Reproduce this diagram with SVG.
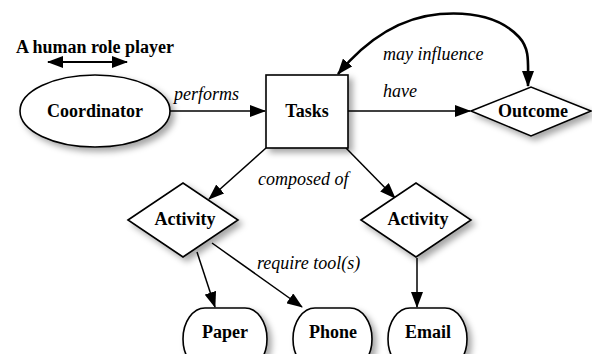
<svg xmlns="http://www.w3.org/2000/svg" width="592" height="354" viewBox="0 0 592 354">
  <style>
    .shape { fill: #fff; stroke: #000; stroke-width: 1.6; filter: url(#shadow); }
    .lbl { font-family: 'Liberation Serif', 'DejaVu Serif', 'Times New Roman', serif; font-weight: bold; font-size: 18px; text-anchor: middle; fill: #000; }
    .edge { fill: none; stroke: #000; stroke-width: 1.5; }
    .thick { stroke-width: 2.6; }
    .elbl { font-family: 'Liberation Serif', 'DejaVu Serif', 'Times New Roman', serif; font-style: italic; font-size: 18px; fill: #000; }
  </style>
  <defs>
    <filter id="shadow" x="-20%" y="-20%" width="150%" height="160%">
      <feDropShadow dx="4" dy="4" stdDeviation="3" flood-color="#000" flood-opacity="0.35"/>
    </filter>
    <marker id="arrow" markerUnits="userSpaceOnUse" markerWidth="16" markerHeight="12" viewBox="0 0 16 12" refX="15" refY="6" orient="auto-start-reverse">
      <path d="M0,0 L16,6 L0,12 Z" fill="#000"/>
    </marker>
  </defs>

  <rect width="592" height="354" fill="#fff"/>

  <!-- legend -->
  <g id="legend">
    <text class="lbl" x="95" y="53">A human role player</text>
    <line x1="48" y1="62" x2="127" y2="62" stroke="#000" stroke-width="2" marker-start="url(#arrow)" marker-end="url(#arrow)"/>
  </g>

  <!-- connectors -->
  <g id="connectors">
    <line class="edge" x1="170" y1="111" x2="265" y2="111" marker-end="url(#arrow)"/>
    <line class="edge" x1="348" y1="111" x2="470" y2="111" marker-end="url(#arrow)"/>
    <path class="edge thick" d="M338,74 C362,45 395,18 440,14 C480,11 505,22 519,37 C530,49 528,62 528,86" marker-start="url(#arrow)" marker-end="url(#arrow)"/>
    <line class="edge" x1="266" y1="148" x2="209" y2="199" marker-end="url(#arrow)"/>
    <line class="edge" x1="346" y1="148" x2="395" y2="198" marker-end="url(#arrow)"/>
    <line class="edge" x1="197" y1="252" x2="215" y2="307" marker-end="url(#arrow)"/>
    <line class="edge" x1="212" y1="243" x2="302" y2="307" marker-end="url(#arrow)"/>
    <line class="edge" x1="417" y1="258" x2="417" y2="307" marker-end="url(#arrow)"/>
    <text class="elbl" x="174" y="100">performs</text>
    <text class="elbl" x="383" y="97">have</text>
    <text class="elbl" x="383" y="60">may influence</text>
    <text class="elbl" x="258" y="185">composed of</text>
    <text class="elbl" x="257" y="269">require tool(s)</text>
  </g>

  <g id="coordinator">
    <ellipse class="shape" cx="95" cy="111" rx="75" ry="36"/>
    <text class="lbl" x="95" y="117">Coordinator</text>
  </g>

  <g id="tasks">
    <rect class="shape" x="266" y="75" width="82" height="73"/>
    <text class="lbl" x="307" y="117">Tasks</text>
  </g>

  <g id="outcome">
    <polygon class="shape" points="471,111 531,87 591,111 531,136"/>
    <text class="lbl" x="533" y="117">Outcome</text>
  </g>

  <g id="activity-left">
    <polygon class="shape" points="128,220 183,183 238,220 183,257"/>
    <text class="lbl" x="185" y="225">Activity</text>
  </g>

  <g id="activity-right">
    <polygon class="shape" points="361,220 416,183 471,220 416,257"/>
    <text class="lbl" x="418" y="225">Activity</text>
  </g>

  <g id="paper">
    <rect class="shape" x="183" y="308" width="84" height="62" rx="22" ry="31"/>
    <text class="lbl" x="225" y="338">Paper</text>
  </g>

  <g id="phone">
    <rect class="shape" x="293" y="308" width="79" height="62" rx="22" ry="31"/>
    <text class="lbl" x="333" y="338">Phone</text>
  </g>

  <g id="email">
    <rect class="shape" x="388" y="308" width="79" height="62" rx="22" ry="31"/>
    <text class="lbl" x="428" y="338">Email</text>
  </g>
</svg>
